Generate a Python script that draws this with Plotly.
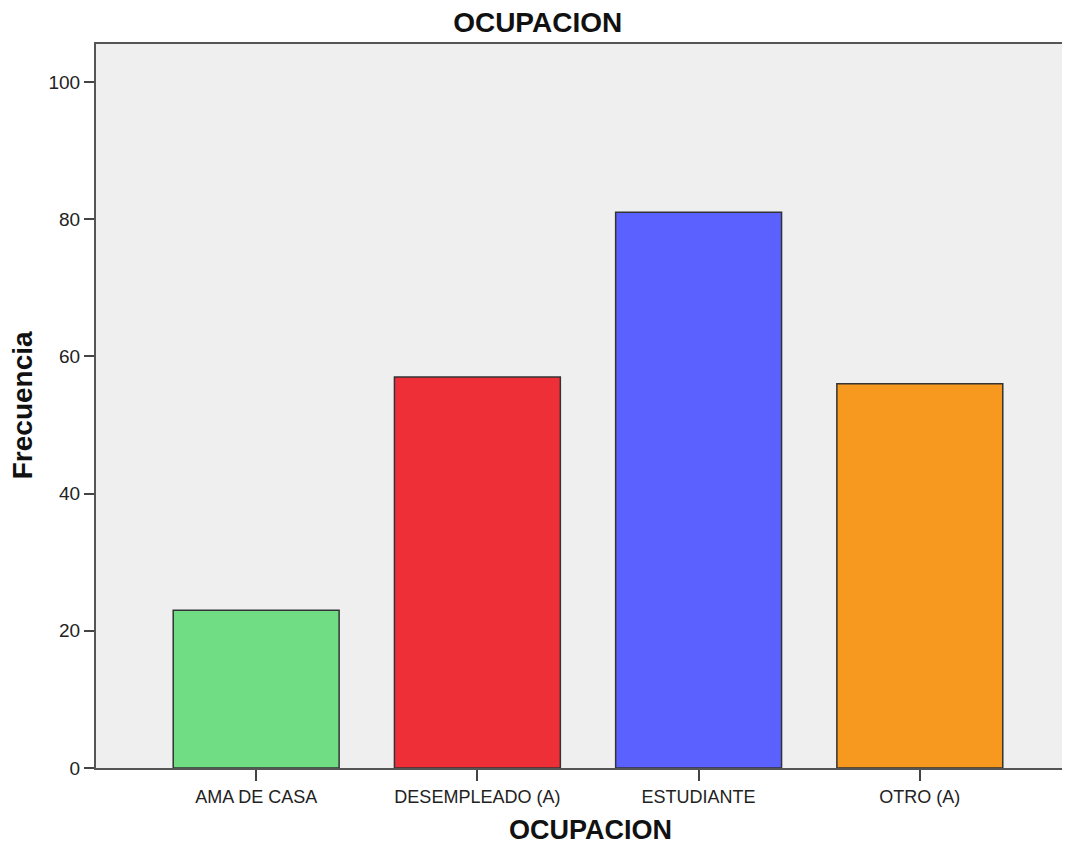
import plotly.graph_objects as go

categories = ["AMA DE CASA", "DESEMPLEADO (A)", "ESTUDIANTE", "OTRO (A)"]
values = [23, 57, 81, 56]
colors = ["#70DD84", "#EE2F38", "#5A61FF", "#F7981F"]
y_ticks = [0, 20, 40, 60, 80, 100]

fig = go.Figure(go.Bar(
    x=categories, y=values, width=0.75,
    marker=dict(color=colors, line=dict(color="#333333", width=1.5)),
))

font_family = "Liberation Sans, Arial, sans-serif"
fig.update_layout(
    width=1070, height=838,
    margin=dict(l=88, r=0, t=36, b=78),
    paper_bgcolor="white", plot_bgcolor="#EFEFEF",
    showlegend=False,
    font=dict(family=font_family, color="#222222", size=14),
    title=dict(text="<b>OCUPACION</b>", x=0.495, xanchor="center", y=0.983, yanchor="middle",
               font=dict(size=28, family=font_family, color="#111111")),
    bargap=0.25,
    annotations=[
        dict(text="<b>OCUPACION</b>", xref="paper", yref="paper", x=0.504, y=-0.0856,
             xanchor="center", yanchor="middle", showarrow=False,
             font=dict(size=27, family=font_family, color="#111111")),
        dict(text="<b>Frecuencia</b>", xref="paper", yref="paper", x=-0.0754, y=0.501,
             xanchor="center", yanchor="middle", showarrow=False, textangle=-90,
             font=dict(size=28, family=font_family, color="#111111")),
    ],
)
fig.update_xaxes(
    range=[-0.724, 3.715], showline=True, linecolor="#555555", linewidth=2, mirror=True,
    ticks="outside", ticklen=11, tickcolor="#444444", tickwidth=1.5,
    showgrid=False, tickfont=dict(size=18, color="#222222"),
)
fig.update_yaxes(
    range=[0, 105.54], tickvals=y_ticks, showline=True, linecolor="#555555", linewidth=2,
    ticks="outside", ticklen=10, tickcolor="#444444", tickwidth=1.5,
    showgrid=False, zeroline=False, tickfont=dict(size=19, color="#222222"),
)
fig.write_html("out.html")
